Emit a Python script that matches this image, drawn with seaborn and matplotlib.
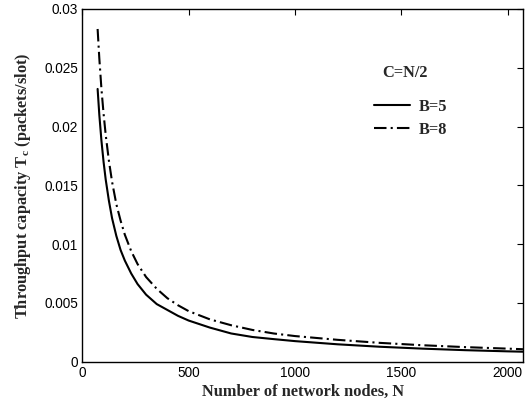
import matplotlib
matplotlib.use("Agg")
import matplotlib.pyplot as plt
import seaborn as sns
import pandas as pd
from matplotlib.ticker import FuncFormatter
from matplotlib.lines import Line2D

# Data
nodes = [72, 80, 90, 100, 110, 125, 140, 160, 180, 200, 230, 260, 300, 350,
         400, 450, 500, 600, 700, 800, 900, 1000, 1200, 1400, 1600, 1800, 2000, 2072]
tc_b5 = [0.0232, 0.0210, 0.0188, 0.0170, 0.0155, 0.0137, 0.0122, 0.0107, 0.0095,
         0.0086, 0.0075, 0.0066, 0.0057, 0.0049, 0.0044, 0.0039, 0.0035, 0.0029,
         0.0024, 0.0021, 0.00192, 0.00175, 0.00148, 0.00127, 0.00111, 0.00098,
         0.00088, 0.00085]
tc_b8 = [0.0283, 0.0258, 0.0232, 0.0211, 0.0193, 0.0171, 0.0153, 0.0134, 0.0120,
         0.0108, 0.0094, 0.0083, 0.0072, 0.0062, 0.0054, 0.0048, 0.0043, 0.0036,
         0.0031, 0.0027, 0.0024, 0.00218, 0.00186, 0.00160, 0.00140, 0.00124,
         0.00111, 0.00106]
series_labels = ["B=5", "B=8"]
x_ticks = [0, 500, 1000, 1500, 2000]
y_ticks = [0, 0.005, 0.01, 0.015, 0.02, 0.025, 0.03]

sns.set_theme(style="white")
plt.rcParams["font.family"] = ["Liberation Sans", "DejaVu Sans"]
plt.rcParams["mathtext.default"] = "regular"

df = pd.DataFrame({
    "N": nodes * 2,
    "Tc": tc_b5 + tc_b8,
    "B": [series_labels[0]] * len(nodes) + [series_labels[1]] * len(nodes),
})

fig = plt.figure(figsize=(5.32, 4.03), dpi=100)
ax = fig.add_axes([0.1547, 0.1025, 0.983 - 0.1547, 0.9777 - 0.1025])

sns.lineplot(data=df, x="N", y="Tc", hue="B", style="B",
             palette={"B=5": "black", "B=8": "black"},
             dashes={"B=5": "", "B=8": (6, 2, 1, 2)},
             linewidth=1.5, ax=ax, legend=False)

ax.set_xlim(0, 2072)
ax.set_ylim(0, 0.03)
ax.set_xticks(x_ticks)
ax.set_yticks(y_ticks)
ax.yaxis.set_major_formatter(FuncFormatter(lambda v, p: "%g" % v))

for s in ax.spines.values():
    s.set_color("black")
    s.set_linewidth(1.0)
ax.tick_params(direction="in", length=4, width=0.8, colors="black",
               labelsize=9.8, top=True, right=True, pad=3)
for lbl in ax.get_xticklabels() + ax.get_yticklabels():
    lbl.set_color("black")

serif = dict(family=["Liberation Serif", "DejaVu Serif"], weight="bold", size=11.8)
ax.set_xlabel("Number of network nodes, N", fontdict=serif, labelpad=3)
ax.set_ylabel(r"Throughput capacity T$_{c}$ (packets/slot)", fontdict=serif, labelpad=8)

ax.text(0.732, 0.8186, "C=N/2", transform=ax.transAxes, ha="center", va="center",
        fontdict=serif)

handles = [Line2D([], [], color="black", lw=1.5, linestyle="-"),
           Line2D([], [], color="black", lw=1.5, linestyle=(0, (6, 2, 1, 2)))]
leg = ax.legend(handles, series_labels, loc="upper left",
                bbox_to_anchor=(0.662, 0.746), frameon=False, borderpad=0,
                borderaxespad=0,
                prop=dict(family="Liberation Serif", weight="bold", size=11.8),
                handlelength=2.2, handletextpad=0.5, labelspacing=0.45)

fig.savefig("out.png", dpi=100, facecolor="white")
